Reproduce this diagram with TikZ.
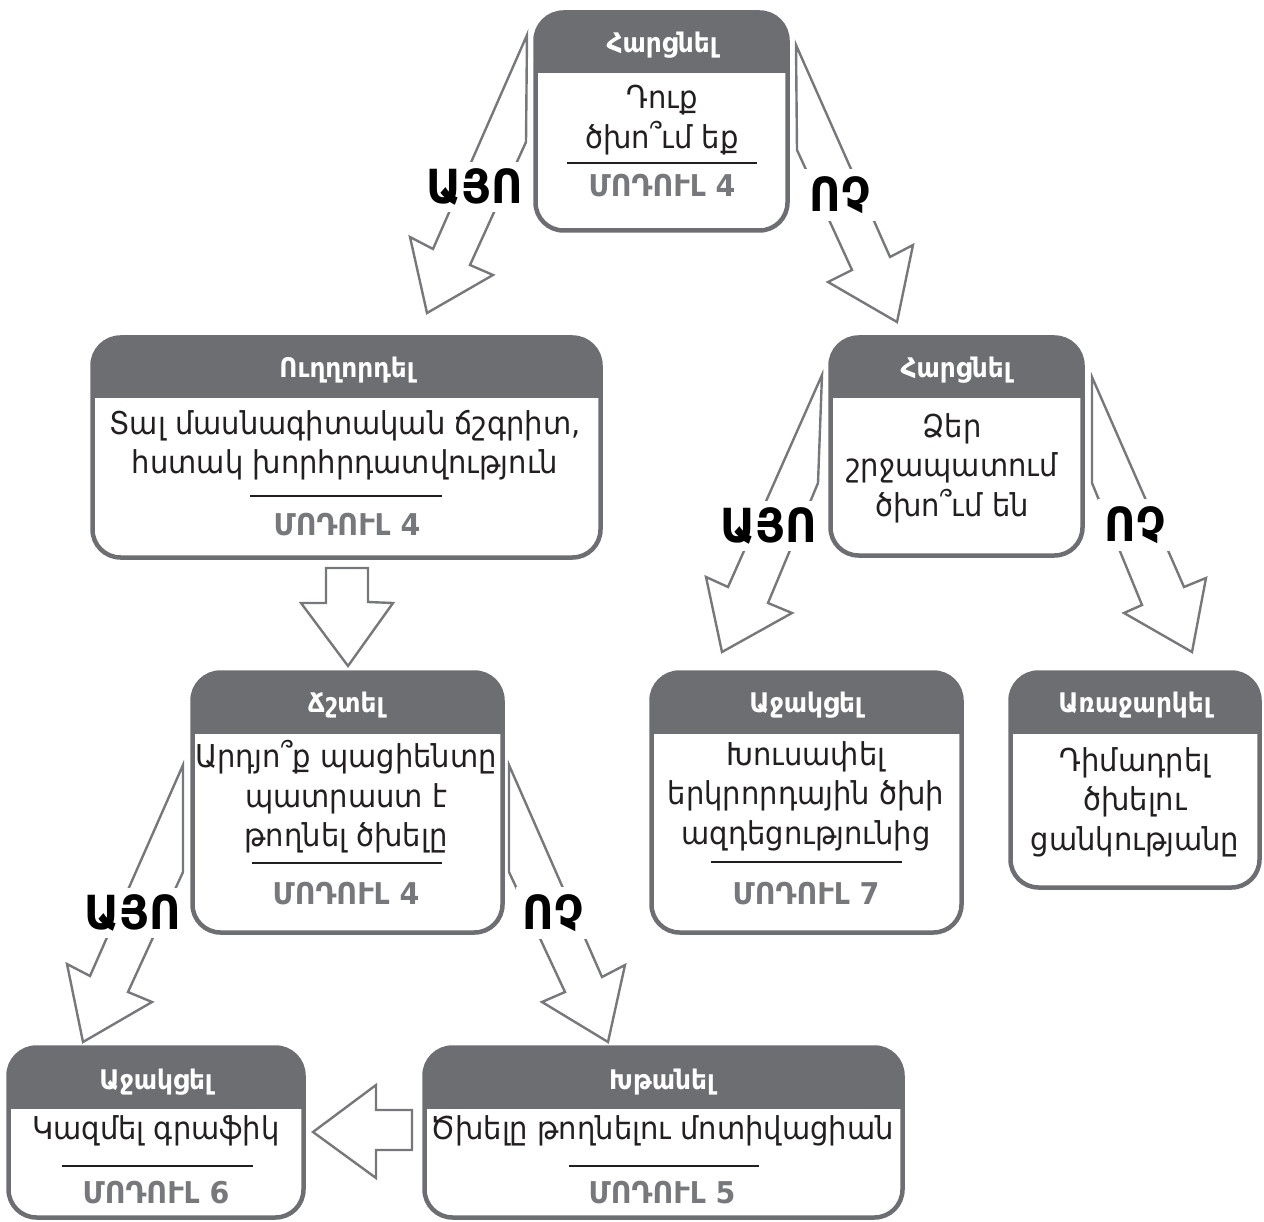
\documentclass[tikz,border=0pt]{standalone}
\usepackage{fontspec}
\setmainfont{DejaVu Sans}[FakeStretch=0.92]
\newfontfamily\modf{DejaVu Sans}[FakeStretch=0.95]
\definecolor{gr}{HTML}{6D6E71}
\definecolor{mgr}{HTML}{77787B}
\definecolor{ink}{HTML}{231F20}
\tikzset{
  cardbox/.style={rectangle, draw=gr, line width=4.5pt, rounded corners=28pt, fill=white,
    inner sep=0pt, outer sep=0pt,
    path picture={\fill[gr, sharp corners] (path picture bounding box.north west) rectangle ([yshift=-61pt]path picture bounding box.north east);}},
  hdr/.style={text=white, font=\fontsize{27}{30}\selectfont\bfseries, inner sep=0pt},
  body/.style={text=ink, font=\fontsize{31.5}{39.5}\selectfont, align=center, inner sep=0pt},
  modl/.style={text=mgr, font=\modf\fontsize{30}{32}\selectfont\bfseries, inner sep=0pt},
  divl/.style={draw=ink, line width=1.1pt},
  blockarrow/.style={draw=mgr, line width=2.4pt, fill=white, line join=miter},
  ans/.style={text=black, font=\fontsize{47}{50}\selectfont\bfseries, fill=white, inner sep=7pt},
}
\begin{document}
\begin{tikzpicture}[x=1pt, y=-1pt]
\useasboundingbox (0,0) rectangle (1264,1222);
% ---- block arrows ----
\draw[blockarrow] (527,35) -- (526,142) -- (470,265) -- (493,275) -- (427,313) -- (410,237) -- (433,249) -- cycle;
\draw[blockarrow] (796,45) -- (797,150) -- (852,270) -- (828,282) -- (897,322) -- (913,245) -- (890,257) -- cycle;
\draw[blockarrow] (822,375) -- (818,483) -- (768,603) -- (792,613) -- (722,652) -- (706,577) -- (728,587) -- cycle;
\draw[blockarrow] (1092,377) -- (1092,483) -- (1142,605) -- (1124,613) -- (1192,652) -- (1206,578) -- (1184,587) -- cycle;
\draw[blockarrow] (183,765) -- (183,872) -- (128,992) -- (152,1002) -- (83,1042) -- (67,964) -- (90,976) -- cycle;
\draw[blockarrow] (509,765) -- (509,872) -- (565,992) -- (542,1002) -- (608,1042) -- (625,965) -- (602,977) -- cycle;
\draw[blockarrow] (326,568) -- (368,568) -- (368,602) -- (393,603) -- (348,666) -- (301,603) -- (326,603) -- cycle;
\draw[blockarrow] (412,1110) -- (376,1110) -- (376,1085) -- (313,1132) -- (376,1178) -- (376,1150) -- (412,1150) -- cycle;
% ---- answer labels ----
\node[ans] (y1) at (475,187) {ԱՅՈ};
\node[ans] (n1) at (840,195) {ՈՉ};
\node[ans] (y2) at (769,526) {ԱՅՈ};
\node[ans] (n2) at (1135,525) {ՈՉ};
\node[ans] (y3) at (133,913) {ԱՅՈ};
\node[ans] (n3) at (553,913) {ՈՉ};
% ---- boxes ----
\node[cardbox, minimum width=252pt, minimum height=218pt] (A) at (661.5,121.5) {};
\node[cardbox, minimum width=508pt, minimum height=220pt] (B) at (346.5,447.5) {};
\node[cardbox, minimum width=252pt, minimum height=218pt] (C) at (956.5,446.5) {};
\node[cardbox, minimum width=310pt, minimum height=260pt] (D) at (347.5,802.5) {};
\node[cardbox, minimum width=310pt, minimum height=260pt] (E) at (806.5,802.5) {};
\node[cardbox, minimum width=249pt, minimum height=215pt] (F) at (1135,780) {};
\node[cardbox, minimum width=295pt, minimum height=170pt] (G) at (156,1132.5) {};
\node[cardbox, minimum width=478pt, minimum height=170pt] (H) at (663.5,1132.5) {};
% ---- headers ----
\node[hdr] (Ah) at (662,45) {Հարցնել};
\node[hdr] (Bh) at (347,370) {Ուղղորդել};
\node[hdr] (Ch) at (956,370) {Հարցնել};
\node[hdr] (Dh) at (346,705) {Ճշտել};
\node[hdr] (Eh) at (806,705) {Աջակցել};
\node[hdr] (Fh) at (1135,705) {Առաջարկել};
\node[hdr] (Gh) at (156,1082) {Աջակցել};
\node[hdr] (Hh) at (662,1082) {Խթանել};
% ---- bodies ----
\node[body] (Ab) at (662,120) {Դուք\\ծխո՞ւմ եք};
\node[body] (Bb) at (345,445) {Տալ մասնագիտական ճշգրիտ,\\հստակ խորհրդատվություն};
\node[body] (Cb) at (952,468) {Ձեր\\շրջապատում\\ծխո՞ւմ են};
\node[body] (Db) at (346,797) {Արդյո՞ք պացիենտը\\պատրաստ է\\թողնել ծխելը};
\node[body] (Eb) at (806,796) {Խուսափել\\երկրորդային ծխի\\ազդեցությունից};
\node[body] (Fb) at (1135,802) {Դիմադրել\\ծխելու\\ցանկությանը};
\node[body] (Gb) at (156,1131) {Կազմել գրաֆիկ};
\node[body] (Hb) at (662,1131) {Ծխելը թողնելու մոտիվացիան};
% ---- dividers ----
\draw[divl] (567,163) -- (757,163);
\draw[divl] (250,496) -- (442,496);
\draw[divl] (252,863) -- (442,863);
\draw[divl] (711,862) -- (902,862);
\draw[divl] (62,1166) -- (253,1166);
\draw[divl] (569,1166) -- (759,1166);
% ---- modules ----
\node[modl] (Am) at (662,186) {ՄՈԴՈՒԼ 4};
\node[modl] (Bm) at (347,525) {ՄՈԴՈՒԼ 4};
\node[modl] (Dm) at (346,894) {ՄՈԴՈՒԼ 4};
\node[modl] (Em) at (806,894) {ՄՈԴՈՒԼ 7};
\node[modl] (Gm) at (156,1193) {ՄՈԴՈՒԼ 6};
\node[modl] (Hm) at (662,1193) {ՄՈԴՈՒԼ 5};
\end{tikzpicture}
\end{document}
